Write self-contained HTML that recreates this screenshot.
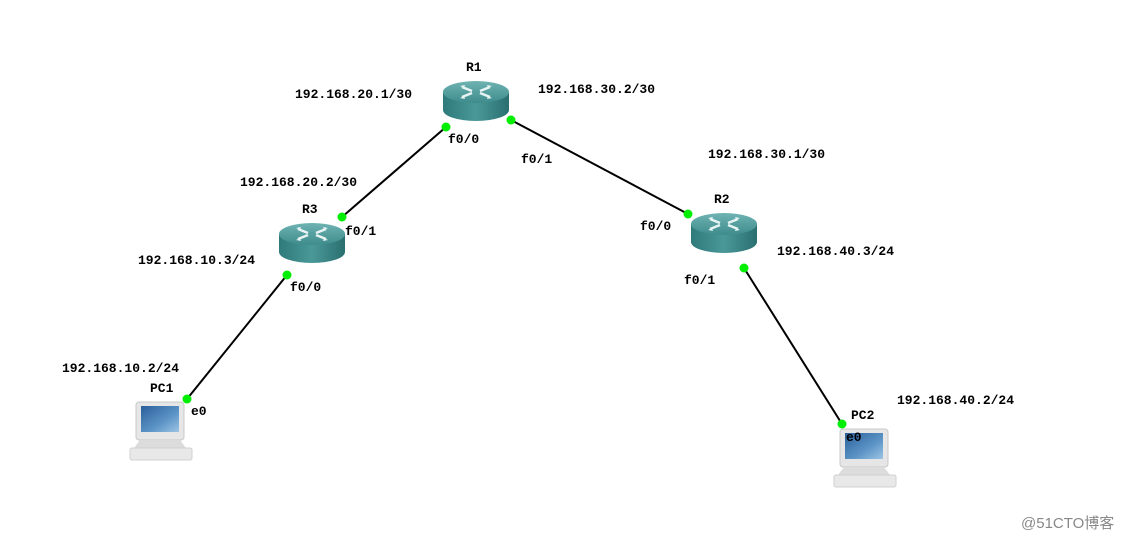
<!DOCTYPE html>
<html><head><meta charset="utf-8"><style>
html,body{margin:0;padding:0;background:#fff;}
svg text{font-family:"Liberation Mono",monospace;font-weight:bold;font-size:13px;fill:#000;}
</style></head><body>
<svg width="1130" height="541" viewBox="0 0 1130 541" xmlns="http://www.w3.org/2000/svg">
<defs>
<linearGradient id="rs" x1="0" x2="1" y1="0" y2="0">
<stop offset="0" stop-color="#2f7a7a"/><stop offset="0.5" stop-color="#4a9898"/><stop offset="1" stop-color="#2a6f70"/></linearGradient>
<linearGradient id="rt" x1="0" x2="0" y1="0" y2="1">
<stop offset="0" stop-color="#6fb3b3"/><stop offset="1" stop-color="#3e8c8c"/></linearGradient>
<linearGradient id="scr" x1="0" x2="1" y1="0" y2="1">
<stop offset="0" stop-color="#2a5f9a"/><stop offset="0.6" stop-color="#5d95c7"/><stop offset="1" stop-color="#9cc4e4"/></linearGradient>
<g id="router">
<path d="M-33 0 L-33 18 A33 11 0 0 0 33 18 L33 0 Z" fill="url(#rs)"/>
<ellipse cx="0" cy="0" rx="33" ry="11" fill="url(#rt)"/>
<g stroke="#e8f4f4" stroke-width="2.5" fill="none">
<path d="M-14 -5 L-4 -1 M14 5 L4 1 M-14 5 L-4 1 M14 -5 L4 -1"/>
</g>
<path d="M-16 -6 l5 -1 l-1 3z M16 6 l-5 1 l1 -3z M-16 6 l5 1 l-1 -3z M16 -6 l-5 -1 l1 3z" fill="#e8f4f4"/>
</g>
<g id="pc">
<rect x="0" y="0" width="48" height="38" rx="3" fill="#e6e6e6" stroke="#c8c8c8"/>
<rect x="5" y="4" width="38" height="26" fill="url(#scr)"/>
<path d="M4 38 L44 38 L50 46 L-2 46 Z" fill="#dcdcdc"/>
<rect x="-6" y="46" width="62" height="12" rx="2" fill="#e8e8e8" stroke="#d0d0d0"/>
</g>
</defs>
<g stroke="#000" stroke-width="2">
<line x1="446" y1="127" x2="342" y2="217"/>
<line x1="511" y1="120" x2="688" y2="214"/>
<line x1="287" y1="275" x2="187" y2="399"/>
<line x1="744" y1="268" x2="842" y2="424"/>
</g>
<use href="#router" x="476" y="92"/>
<use href="#router" x="312" y="234"/>
<use href="#router" x="724" y="224"/>
<use href="#pc" x="136" y="402"/>
<use href="#pc" x="840" y="429"/>
<g fill="#00ee00">
<circle cx="446" cy="127" r="4.5"/><circle cx="511" cy="120" r="4.5"/>
<circle cx="342" cy="217" r="4.5"/><circle cx="688" cy="214" r="4.5"/>
<circle cx="287" cy="275" r="4.5"/><circle cx="187" cy="399" r="4.5"/>
<circle cx="744" cy="268" r="4.5"/><circle cx="842" cy="424" r="4.5"/>
</g>
<text x="466" y="71">R1</text>
<text x="302" y="213">R3</text>
<text x="714" y="203">R2</text>
<text x="150" y="392">PC1</text>
<text x="851" y="419">PC2</text>
<text x="295" y="98">192.168.20.1/30</text>
<text x="538" y="93">192.168.30.2/30</text>
<text x="448" y="143">f0/0</text>
<text x="521" y="163">f0/1</text>
<text x="708" y="158">192.168.30.1/30</text>
<text x="240" y="186">192.168.20.2/30</text>
<text x="345" y="235">f0/1</text>
<text x="640" y="230">f0/0</text>
<text x="777" y="255">192.168.40.3/24</text>
<text x="138" y="264">192.168.10.3/24</text>
<text x="290" y="291">f0/0</text>
<text x="684" y="284">f0/1</text>
<text x="62" y="372">192.168.10.2/24</text>
<text x="191" y="415">e0</text>
<text x="897" y="404">192.168.40.2/24</text>
<text x="846" y="441">e0</text>
<text x="1021" y="528" style="font-family:'Liberation Sans','Noto Sans CJK SC',sans-serif;font-weight:normal;font-size:15px;fill:#888">@51CTO博客</text>
</svg>
</body></html>
